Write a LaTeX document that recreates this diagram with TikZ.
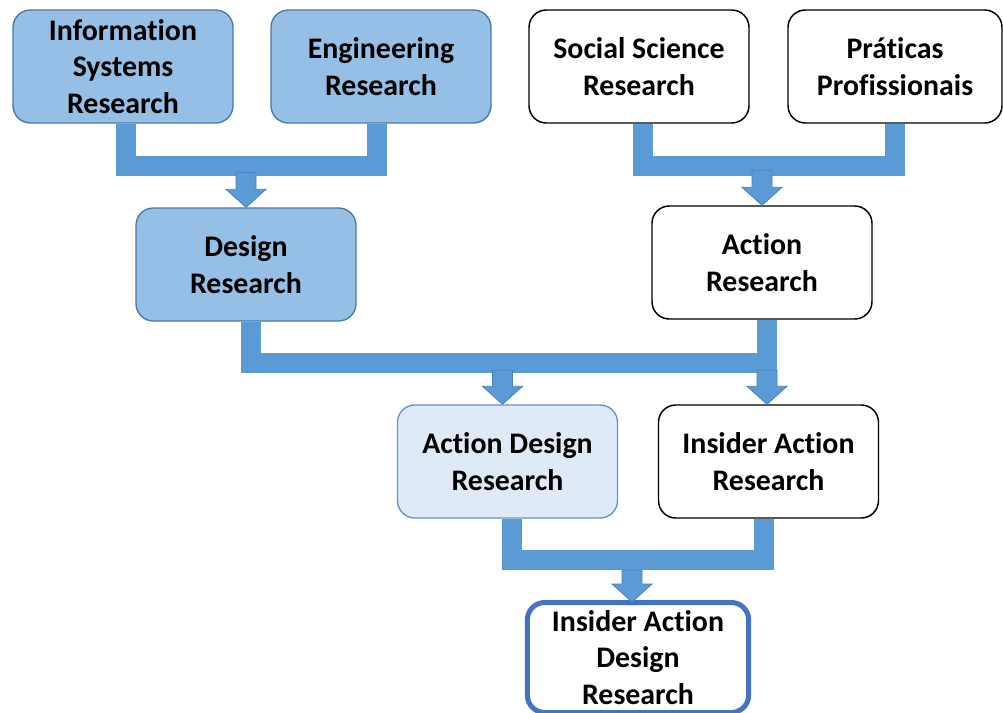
\documentclass[tikz,border=0pt]{standalone}
\usepackage{fontspec}
\setmainfont{Carlito}[Ligatures=NoCommon]
\usetikzlibrary{calc}
\definecolor{boxblue}{RGB}{149,191,228}
\definecolor{boxedge}{RGB}{74,120,170}
\definecolor{barblue}{RGB}{91,155,213}
\definecolor{arrowedge}{RGB}{72,130,192}
\definecolor{paleblue}{RGB}{222,235,247}
\definecolor{paleedge}{RGB}{100,145,200}
\definecolor{finaledge}{RGB}{68,114,196}
\begin{document}
\begin{tikzpicture}[x=0.75pt,y=-0.75pt,
  box/.style={rounded corners=13pt, minimum width=165pt, minimum height=84.75pt,
    align=center, inner sep=0pt, font=\fontsize{22.4}{27.4}\selectfont\bfseries},
  bluebox/.style={box, fill=boxblue, draw=boxedge, line width=1pt},
  whitebox/.style={box, fill=white, draw=black, line width=1.1pt},
  palebox/.style={box, fill=paleblue, draw=paleedge, line width=1pt},
  finalbox/.style={box, fill=white, draw=finaledge, line width=3.75pt,
    minimum width=166pt, minimum height=82.5pt},
  bar/.style={draw=barblue, line width=15pt, line join=miter},
  arrowhead/.style={fill=barblue, draw=arrowedge, line width=0.6pt, line join=miter}
]
\useasboundingbox (0,0) rectangle (1003,713);

% nodes
\node[bluebox] (isr) at (123,66.5) {Information\\Systems\\Research};
\node[bluebox] (eng) at (381,66.5) {Engineering\\Research};
\node[whitebox] (ssr) at (639,66.5) {Social Science\\Research};
\node[whitebox, minimum width=160.5pt] (pp) at (895,66.5) {Práticas\\Profissionais};
\node[bluebox] (dr) at (246,264.5) {Design\\Research};
\node[whitebox] (ar) at (762,262.5) {Action\\Research};
\node[palebox] (adr) at (507.5,461.5) {Action Design\\Research};
\node[whitebox] (iar) at (768.5,461.5) {Insider Action\\Research};
\node[finalbox] (iadr) at (638,657.5) {Insider Action\\Design\\Research};

% top-left connector
\draw[bar] ($(isr.south)+(3,0)$) |- ($(eng.south)+(-4,42)$) -- ($(eng.south)+(-4,0)$);
\filldraw[arrowhead] (dr.north) -- ++(-20,-18) -- ++(10,0) -- ++(0,-17) -- ++(20,0) -- ++(0,17) -- ++(10,0) -- cycle;

% top-right connector
\draw[bar] ($(ssr.south)+(3.5,0)$) |- ($(pp.south)+(-0.5,42)$) -- ($(pp.south)+(-0.5,0)$);
\filldraw[arrowhead] (ar.north) -- ++(-20,-18) -- ++(10,0) -- ++(0,-17) -- ++(20,0) -- ++(0,17) -- ++(10,0) -- cycle;

% middle connector
\draw[bar] ($(dr.south)+(5,0)$) |- ($(ar.south)+(5,43.5)$) -- ($(ar.south)+(5,0)$);
\filldraw[arrowhead] ($(adr.north)+(-5,0)$) -- ++(-20,-18) -- ++(10,0) -- ++(0,-16) -- ++(20,0) -- ++(0,16) -- ++(10,0) -- cycle;
\filldraw[arrowhead] ($(iar.north)+(-1.5,0)$) -- ++(-20,-18) -- ++(10,0) -- ++(0,-16) -- ++(20,0) -- ++(0,16) -- ++(10,0) -- cycle;

% bottom connector
\draw[bar] ($(adr.south)+(4.5,0)$) |- ($(iar.south)+(-5,41)$) -- ($(iar.south)+(-5,0)$);
\filldraw[arrowhead] ($(iadr.north)+(-6,2)$) -- ++(-20,-18) -- ++(10,0) -- ++(0,-14) -- ++(20,0) -- ++(0,14) -- ++(10,0) -- cycle;
\end{tikzpicture}
\end{document}
